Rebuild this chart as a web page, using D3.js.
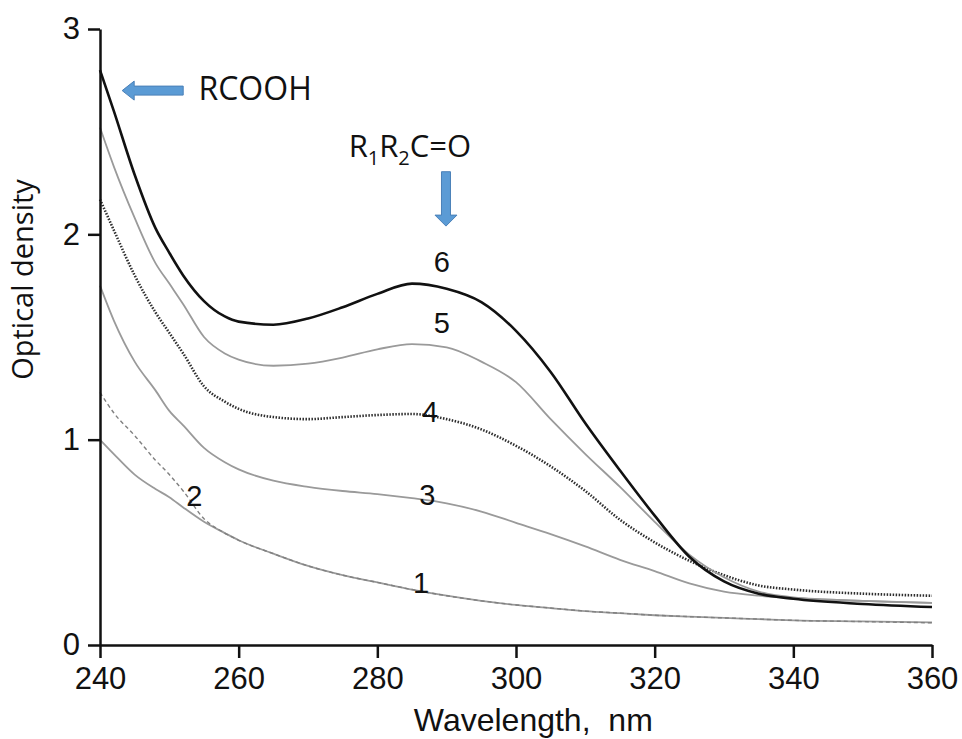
<!DOCTYPE html>
<html>
<head>
<meta charset="utf-8">
<script src="https://cdn.jsdelivr.net/npm/d3@7"></script>
<style>
  body { margin: 0; background: #fff; }
  svg { display: block; }
</style>
</head>
<body>
<div id="chart"></div>
<script>
// wavelengths (nm)
var wl = [240, 242, 245, 248, 250, 252, 255, 258, 260, 265, 270, 275, 280, 285, 290, 295, 300, 305, 310, 315, 320, 325, 330, 335, 340, 350, 360]

// optical density for each spectrum
var curve1 = [1.00, 0.93, 0.83, 0.76, 0.72, 0.67, 0.60, 0.545, 0.51, 0.445, 0.385, 0.34, 0.305, 0.27, 0.24, 0.215, 0.195, 0.18, 0.165, 0.155, 0.145, 0.138, 0.132, 0.126, 0.12, 0.115, 0.11]
var curve2 = [1.23, 1.13, 1.02, 0.90, 0.83, 0.75, 0.615, 0.545, 0.51, 0.445, 0.385, 0.34, 0.305, 0.27, 0.24, 0.215, 0.195, 0.18, 0.165, 0.155, 0.145, 0.138, 0.132, 0.126, 0.12, 0.114, 0.108]
var curve3 = [1.75, 1.58, 1.38, 1.24, 1.14, 1.07, 0.96, 0.89, 0.855, 0.80, 0.77, 0.75, 0.735, 0.715, 0.69, 0.65, 0.595, 0.54, 0.48, 0.415, 0.36, 0.30, 0.26, 0.24, 0.228, 0.215, 0.205]
var curve4 = [2.17, 2.02, 1.80, 1.62, 1.52, 1.42, 1.26, 1.185, 1.15, 1.11, 1.10, 1.11, 1.12, 1.125, 1.10, 1.05, 0.97, 0.87, 0.75, 0.61, 0.50, 0.41, 0.34, 0.29, 0.27, 0.25, 0.24]
var curve5 = [2.52, 2.33, 2.08, 1.86, 1.76, 1.66, 1.50, 1.42, 1.39, 1.36, 1.37, 1.40, 1.44, 1.465, 1.45, 1.38, 1.28, 1.10, 0.93, 0.77, 0.60, 0.44, 0.33, 0.26, 0.232, 0.215, 0.205]
var curve6 = [2.80, 2.60, 2.29, 2.03, 1.91, 1.80, 1.675, 1.60, 1.575, 1.56, 1.59, 1.645, 1.71, 1.76, 1.735, 1.67, 1.53, 1.33, 1.08, 0.85, 0.63, 0.43, 0.31, 0.25, 0.225, 0.20, 0.185]

var xTicks = [240, 260, 280, 300, 320, 340, 360]
var xMinor = [250, 270, 290, 310, 330, 350]
var yTicks = [0, 1, 2, 3]
var yMinor = [0.5, 1.5, 2.5]

var width = 962
var height = 739

var x = d3.scaleLinear().domain([240, 360]).range([100, 932])
var y = d3.scaleLinear().domain([0, 3]).range([645, 29])

var svg = d3.select('#chart')
    .append('svg')
    .attr('width', width)
    .attr('height', height)

// series and their line styles
var series = [
    { name: '1', values: curve1, color: '#9a9a9a', w: 1.8, dash: null },
    { name: '2', values: curve2, color: '#808080', w: 1.4, dash: '4,3' },
    { name: '3', values: curve3, color: '#9a9a9a', w: 1.8, dash: null },
    { name: '4', values: curve4, color: '#2e2e2e', w: 2.6, dash: '1.5,1.5' },
    { name: '5', values: curve5, color: '#9a9a9a', w: 1.8, dash: null },
    { name: '6', values: curve6, color: '#111', w: 2.6, dash: null }
]

var line = d3.line()
    .x(function (d) { return x(d[0]) })
    .y(function (d) { return y(d[1]) })
    .curve(d3.curveMonotoneX)

svg.append('g').selectAll('path')
    .data(series)
    .enter()
    .append('path')
    .attr('d', function (s) { return line(d3.zip(wl, s.values)) })
    .style('fill', 'none')
    .style('stroke', function (s) { return s.color })
    .style('stroke-width', function (s) { return s.w })
    .style('stroke-dasharray', function (s) { return s.dash })

// axes
var gx = svg.append('g').attr('transform', 'translate(0,' + y(0) + ')')
gx.call(d3.axisBottom(x).tickValues(xMinor).tickSize(7).tickFormat(''))
gx.call(d3.axisBottom(x).tickValues(xTicks).tickSize(13).tickSizeOuter(0).tickPadding(9).tickFormat(d3.format('d')))

var gy = svg.append('g').attr('transform', 'translate(' + x(240) + ',0)')
gy.call(d3.axisLeft(y).tickValues(yMinor).tickSize(7).tickFormat(''))
gy.call(d3.axisLeft(y).tickValues(yTicks).tickSize(12).tickSizeOuter(0).tickPadding(8).tickFormat(d3.format('d')))

svg.selectAll('.domain, .tick line')
    .style('stroke', '#111')
    .style('stroke-width', 2.5)
svg.selectAll('.tick text')
    .style('font-family', '"Liberation Sans", Arial, sans-serif')
    .style('font-size', '31px')
    .style('fill', '#111')

// axis titles
svg.append('text')
    .attr('x', x(302.5))
    .attr('y', 731)
    .attr('text-anchor', 'middle')
    .style('white-space', 'pre')
    .style('font-family', '"Liberation Sans", Arial, sans-serif')
    .style('font-size', '32px')
    .style('fill', '#111')
    .text('Wavelength,  nm')

svg.append('text')
    .attr('transform', 'translate(33,' + y(1.78) + ') rotate(-90)')
    .attr('text-anchor', 'middle')
    .style('font-family', '"Open Sans", sans-serif')
    .style('font-size', '29px')
    .style('fill', '#111')
    .text('Optical density')

// curve numbers
var labels = [
    { t: '1', wl: 286.3, od: 0.253 },
    { t: '2', wl: 253.6, od: 0.677 },
    { t: '3', wl: 287.2, od: 0.682 },
    { t: '4', wl: 287.6, od: 1.086 },
    { t: '5', wl: 289.3, od: 1.52 },
    { t: '6', wl: 289.3, od: 1.817 }
]
svg.append('g').selectAll('text')
    .data(labels)
    .enter()
    .append('text')
    .attr('x', function (d) { return x(d.wl) })
    .attr('y', function (d) { return y(d.od) })
    .attr('text-anchor', 'middle')
    .style('font-family', '"Liberation Sans", Arial, sans-serif')
    .style('font-size', '29px')
    .style('fill', '#111')
    .text(function (d) { return d.t })

// blue arrows
var arrowFill = '#5b9bd5'
var arrowStroke = '#4a80b8'

// RCOOH arrow, pointing left at the start of curve 6
var ax0 = x(243.2), ay = y(2.70), ax1 = x(252)
svg.append('path')
    .attr('d', 'M' + ax0 + ',' + ay +
        'L' + (ax0 + 12) + ',' + (ay - 9.5) +
        'L' + (ax0 + 12) + ',' + (ay - 4.5) +
        'L' + ax1 + ',' + (ay - 4.5) +
        'L' + ax1 + ',' + (ay + 4.5) +
        'L' + (ax0 + 12) + ',' + (ay + 4.5) +
        'L' + (ax0 + 12) + ',' + (ay + 9.5) + 'Z')
    .style('fill', arrowFill)
    .style('stroke', arrowStroke)
    .style('stroke-width', 1)

svg.append('text')
    .attr('x', x(254.2))
    .attr('y', y(2.655))
    .style('font-family', '"Open Sans", sans-serif')
    .style('font-size', '32px')
    .style('fill', '#111')
    .text('RCOOH')

// carbonyl arrow, pointing down at the band maximum
var bx = x(289.9), by0 = y(2.305), by1 = y(2.04)
svg.append('path')
    .attr('d', 'M' + (bx - 4.5) + ',' + by0 +
        'L' + (bx + 4.5) + ',' + by0 +
        'L' + (bx + 4.5) + ',' + (by1 - 11) +
        'L' + (bx + 11) + ',' + (by1 - 11) +
        'L' + bx + ',' + by1 +
        'L' + (bx - 11) + ',' + (by1 - 11) +
        'L' + (bx - 4.5) + ',' + (by1 - 11) + 'Z')
    .style('fill', arrowFill)
    .style('stroke', arrowStroke)
    .style('stroke-width', 1)

var carb = svg.append('text')
    .attr('x', x(284.7))
    .attr('y', y(2.377))
    .attr('text-anchor', 'middle')
    .style('font-family', '"Open Sans", sans-serif')
    .style('font-size', '31px')
    .style('fill', '#111')
carb.append('tspan').text('R')
carb.append('tspan').attr('dy', 8).style('font-size', '20px').text('1')
carb.append('tspan').attr('dy', -8).text('R')
carb.append('tspan').attr('dy', 8).style('font-size', '20px').text('2')
carb.append('tspan').attr('dy', -8).text('C=O')
</script>
</body>
</html>
